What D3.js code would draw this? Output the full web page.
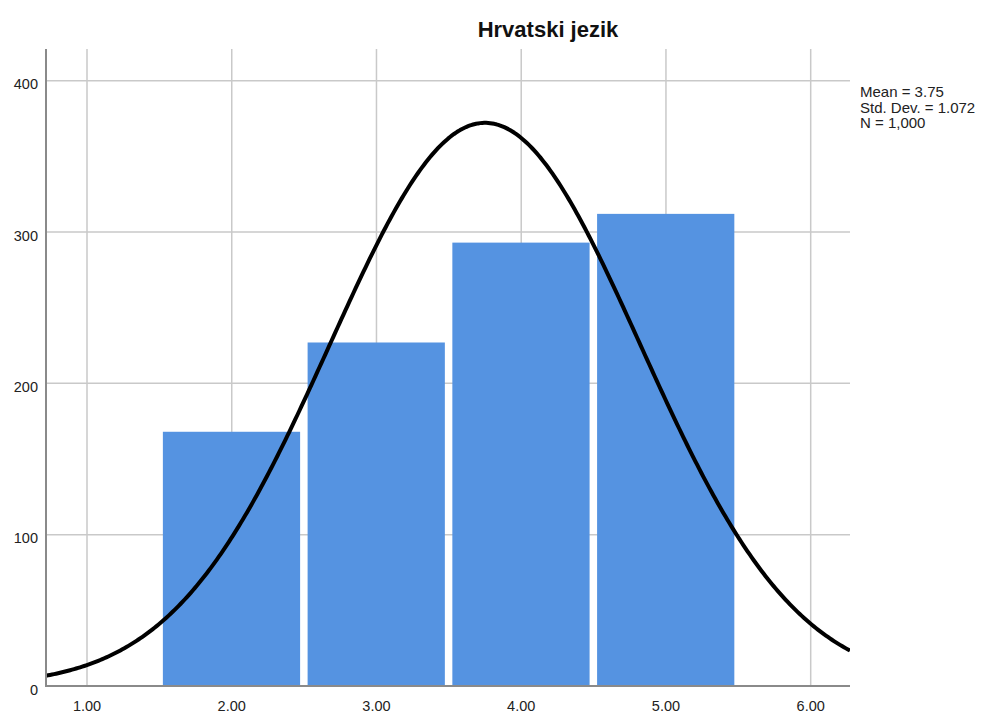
<!DOCTYPE html>
<html>
<head>
<meta charset="utf-8">
<script src="https://cdn.jsdelivr.net/npm/d3@7"></script>
<style>
  html, body { margin: 0; padding: 0; background: #ffffff; }
  svg { display: block; font-family: "Liberation Sans", Arial, sans-serif; }
</style>
</head>
<body>
<svg id="chart" width="983" height="713"></svg>
<script>
// ---- data ----
const title = "Hrvatski jezik";
const binCenters = [2, 3, 4, 5];
const binCounts = [168, 227, 293, 312];
const binWidth = 1;
const xTickValues = [1, 2, 3, 4, 5, 6];
const xTickLabels = ["1.00", "2.00", "3.00", "4.00", "5.00", "6.00"];
const yTickValues = [0, 100, 200, 300, 400];
const yTickLabels = ["0", "100", "200", "300", "400"];
const statMean = 3.75;
const statSD = 1.072;
const statN = 1000;
const statLines = ["Mean = 3.75", "Std. Dev. = 1.072", "N = 1,000"];

// ---- layout ----
const plotLeft = 46, plotRight = 850, plotTop = 49, plotBottom = 686;
const svg = d3.select("#chart");

const x = d3.scaleLinear().domain([1, 6]).range([87, 810.7]);
const y = d3.scaleLinear().domain([0, 400]).range([plotBottom, 80.7]);
const xMin = x.invert(plotLeft), xMax = x.invert(plotRight);

const gridColor = "#c9c9c9";
const axisColor = "#8a8a8a";
const barColor = "#5593e1";

// gridlines
const grid = svg.append("g");
grid.selectAll("line.v").data(xTickValues).enter().append("line")
  .attr("x1", d => x(d)).attr("x2", d => x(d))
  .attr("y1", plotTop).attr("y2", plotBottom)
  .attr("stroke", gridColor).attr("stroke-width", 1.5);
grid.selectAll("line.h").data(yTickValues.filter(d => d > 0)).enter().append("line")
  .attr("x1", plotLeft).attr("x2", plotRight)
  .attr("y1", d => y(d)).attr("y2", d => y(d))
  .attr("stroke", gridColor).attr("stroke-width", 1.5);

// bars
const bars = binCenters.map((c, i) => ({c, n: binCounts[i]}));
svg.append("g").selectAll("rect").data(bars).enter().append("rect")
  .attr("x", d => x(d.c - binWidth / 2) + 3.5)
  .attr("width", d => x(d.c + binWidth / 2) - x(d.c - binWidth / 2) - 7.5)
  .attr("y", d => y(d.n))
  .attr("height", d => y(0) - y(d.n))
  .attr("fill", barColor);

// normal curve fitted from the stats
const pdf = v => Math.exp(-0.5 * Math.pow((v - statMean) / statSD, 2)) / (statSD * Math.sqrt(2 * Math.PI));
const curvePts = d3.range(0, 401).map(i => {
  const v = xMin + (xMax - xMin) * i / 400;
  return [v, statN * binWidth * pdf(v)];
});
svg.append("defs").append("clipPath").attr("id", "clip")
  .append("rect").attr("x", plotLeft).attr("y", plotTop)
  .attr("width", plotRight - plotLeft).attr("height", plotBottom - plotTop);
svg.append("path").datum(curvePts)
  .attr("clip-path", "url(#clip)")
  .attr("d", d3.line().x(d => x(d[0])).y(d => y(d[1])).curve(d3.curveLinear))
  .attr("fill", "none").attr("stroke", "#000").attr("stroke-width", 4)
  .attr("stroke-linejoin", "round");

// axes lines
svg.append("line").attr("x1", plotLeft).attr("x2", plotLeft)
  .attr("y1", plotTop).attr("y2", plotBottom)
  .attr("stroke", axisColor).attr("stroke-width", 2);
svg.append("line").attr("x1", plotLeft - 1).attr("x2", plotRight)
  .attr("y1", plotBottom).attr("y2", plotBottom)
  .attr("stroke", axisColor).attr("stroke-width", 2);

// tick labels
svg.append("g").selectAll("text").data(yTickValues).enter().append("text")
  .attr("x", 38).attr("y", d => y(d) + 8.5)
  .attr("text-anchor", "end").attr("font-size", 14.5).attr("fill", "#222")
  .text((d, i) => yTickLabels[i]);
svg.append("g").selectAll("text").data(xTickValues).enter().append("text")
  .attr("x", d => x(d)).attr("y", 711)
  .attr("text-anchor", "middle").attr("font-size", 14.5).attr("fill", "#222")
  .text((d, i) => xTickLabels[i]);

// title
svg.append("text").attr("x", 548).attr("y", 37)
  .attr("text-anchor", "middle").attr("font-size", 22).attr("font-weight", "bold")
  .attr("fill", "#111").text(title);

// stats box
svg.append("g").selectAll("text").data(statLines).enter().append("text")
  .attr("x", 860).attr("y", (d, i) => 97 + i * 15.5)
  .attr("font-size", 15).attr("fill", "#222")
  .text(d => d);
</script>
</body>
</html>
